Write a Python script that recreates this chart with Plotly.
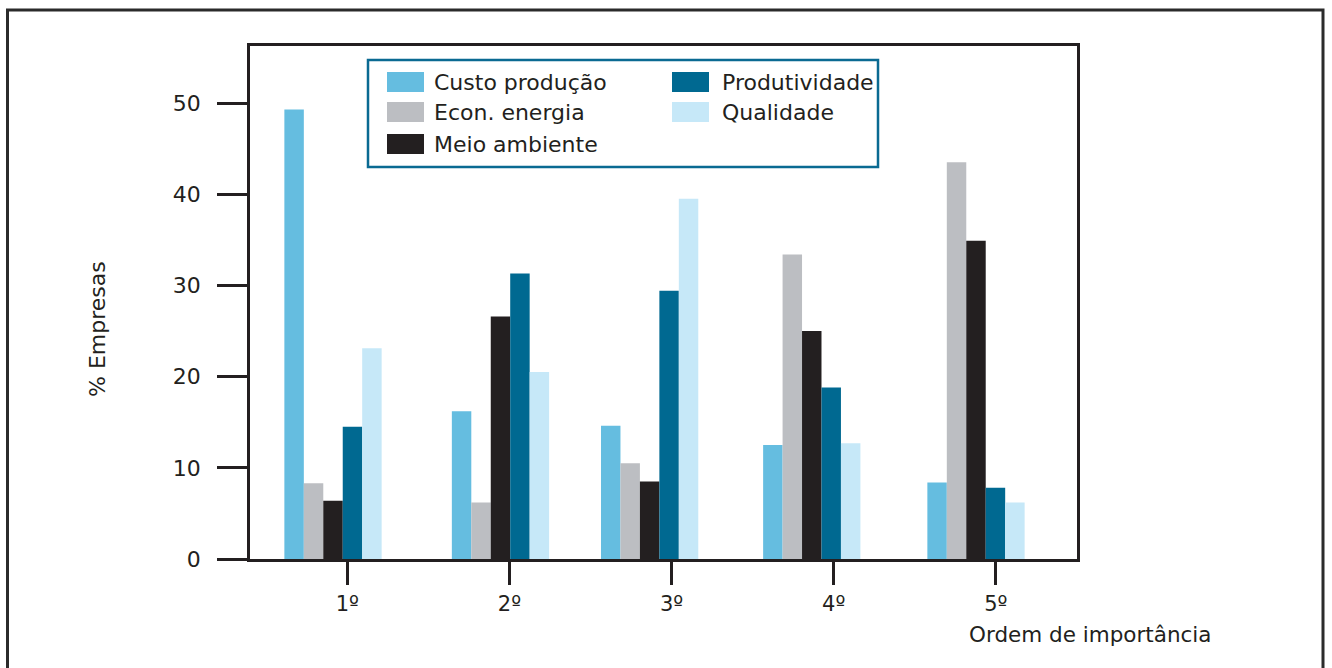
import plotly.graph_objects as go

# ---------------- data ----------------
categories = ["1º", "2º", "3º", "4º", "5º"]
series_names = ["Custo produção", "Econ. energia", "Meio ambiente", "Produtividade", "Qualidade"]
custo_producao = [49.3, 16.2, 14.6, 12.5, 8.4]
econ_energia = [8.3, 6.2, 10.5, 33.4, 43.5]
meio_ambiente = [6.4, 26.6, 8.5, 25.0, 34.9]
produtividade = [14.5, 31.3, 29.4, 18.8, 7.8]
qualidade = [23.1, 20.5, 39.5, 12.7, 6.2]
y_ticks = [0, 10, 20, 30, 40, 50]
x_title = "Ordem de importância"
y_title = "% Empresas"

series_values = [custo_producao, econ_energia, meio_ambiente, produtividade, qualidade]
colors = ["#65bde0", "#bcbec2", "#231f20", "#006991", "#c6e8f8"]

FONT = "DejaVu Sans"
TXT = "#231f20"

W, H = 1332, 668
L, R, T, B = 250, 1077, 46, 559  # plot area in pixels


def xp(px):
    return (px - L) / (R - L)


def yp(py):
    return (B - py) / (B - T)


# styling: bar width and per-group shift of the bar cluster relative to its tick (axis units)
bar_w = 0.12
group_start = [-0.388, -0.355, -0.435, -0.435, -0.422]

fig = go.Figure()
for i, (name, vals, col) in enumerate(zip(series_names, series_values, colors)):
    fig.add_trace(go.Bar(
        x=categories, y=vals, name=name,
        marker=dict(color=col, line=dict(width=0)),
        width=bar_w, offset=[s + i * bar_w for s in group_start],
        showlegend=False,
    ))

shapes = []
annotations = []

# outer frame
shapes.append(dict(type="rect", xref="paper", yref="paper",
                   x0=xp(7.5), x1=xp(1323), y0=yp(10), y1=yp(720),
                   line=dict(color="#2b2b2b", width=3), fillcolor="rgba(0,0,0,0)", layer="below"))

# legend box
shapes.append(dict(type="rect", xref="paper", yref="paper",
                   x0=xp(368), x1=xp(878), y0=yp(60), y1=yp(167),
                   line=dict(color="#0a6a92", width=2.5), fillcolor="white"))
leg_pos = [(387, 434, 72, 92), (387, 434, 102, 122), (387, 434, 134, 154),
           (672, 722, 72, 92), (672, 722, 102, 122)]
for (sx, tx, y0, y1), name, col in zip(leg_pos, series_names, colors):
    shapes.append(dict(type="rect", xref="paper", yref="paper",
                       x0=xp(sx), x1=xp(sx + 37), y0=yp(y0), y1=yp(y1),
                       line=dict(width=0), fillcolor=col))
    annotations.append(dict(xref="paper", yref="paper", x=xp(tx - 2), y=yp((y0 + y1) / 2),
                            text=name, showarrow=False, xanchor="left", yanchor="middle",
                            font=dict(family=FONT, size=22, color=TXT)))

# axis titles
annotations.append(dict(xref="paper", yref="paper", x=xp(967), y=yp(634), text=x_title,
                        showarrow=False, xanchor="left", yanchor="middle",
                        font=dict(family=FONT, size=21.5, color=TXT)))
annotations.append(dict(xref="paper", yref="paper", x=xp(97), y=yp(329), text=y_title,
                        showarrow=False, xanchor="center", yanchor="middle", textangle=-90,
                        font=dict(family=FONT, size=22, color=TXT)))

fig.update_layout(
    width=W, height=H,
    margin=dict(l=L, r=W - R, t=T, b=H - B, pad=0),
    paper_bgcolor="white", plot_bgcolor="white",
    barmode="overlay",
    showlegend=False,
    shapes=shapes, annotations=annotations,
    font=dict(family=FONT, size=22, color=TXT),
)
fig.update_xaxes(
    type="category", categoryorder="array", categoryarray=categories,
    range=[-0.600, 4.501],
    showline=True, linecolor=TXT, linewidth=2.5, mirror=True,
    ticks="outside", ticklen=23, tickwidth=2.5, tickcolor=TXT,
    showgrid=False, zeroline=False,
    tickfont=dict(family=FONT, size=21, color=TXT),
    ticklabelstandoff=1,
)
fig.update_yaxes(
    range=[0, 56.25], tickvals=y_ticks,
    showline=True, linecolor=TXT, linewidth=2.5, mirror=True,
    ticks="outside", ticklen=30, tickwidth=2.5, tickcolor=TXT,
    showgrid=False, zeroline=False,
    tickfont=dict(family=FONT, size=22, color=TXT),
    ticklabelstandoff=12,
)

fig.write_html("out.html", config={"displayModeBar": False},
               post_script="document.body.style.margin='0';")
